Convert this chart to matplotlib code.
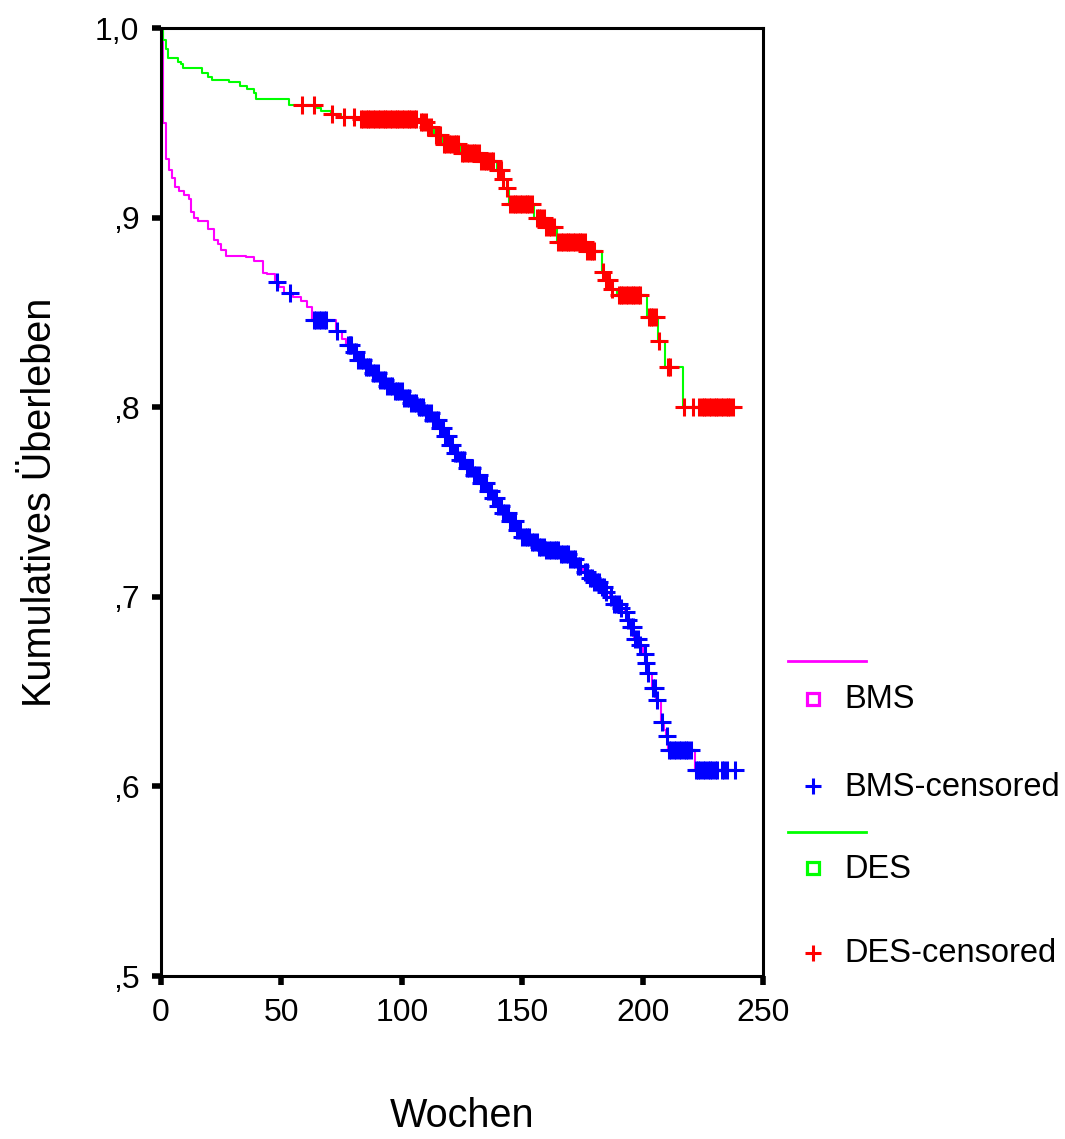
import numpy as np
import matplotlib
matplotlib.use('Agg')
import matplotlib.pyplot as plt
from matplotlib.lines import Line2D

plt.rcParams['font.family'] = ['Liberation Sans', 'DejaVu Sans']

# step points of the survival curves (week of step, level after the step)
bms_t = [0, 1.0, 2.0, 3.5, 4.5, 5.8, 7.5, 9.5, 11.5, 12.5,
         13.8, 15.5, 19.5, 22.0, 23.5, 24.8, 27.0, 35.5, 38.5, 42.5,
         44.0, 47.5, 48.8, 51.0, 54.8, 58.0, 60.5, 62.5, 72.5, 75.0,
         77.0, 79.5, 82.0, 85.0, 88.0, 91.0, 94.0, 97.0, 100.5, 104.0,
         107.0, 110.0, 113.0, 115.5, 117.5, 119.5, 121.5, 123.5, 127.0, 130.0,
         133.0, 135.5, 137.5, 139.5, 142.0, 145.0, 147.5, 150.0, 154.0, 157.0,
         160.0, 166.0, 170.0, 173.0, 175.3, 178.0, 180.0, 183.0, 185.0, 186.4,
         188.0, 191.0, 192.6, 193.8, 195.0, 196.5, 198.2, 200.3, 201.0, 202.0,
         203.8, 205.5, 207.8, 209.0, 209.8, 210.5, 221.7]
bms_s = [1.0, 0.950, 0.931, 0.925, 0.921, 0.916, 0.914, 0.912, 0.910, 0.903,
         0.900, 0.898, 0.894, 0.888, 0.886, 0.883, 0.880, 0.879, 0.877, 0.871,
         0.870, 0.866, 0.8636, 0.860, 0.858, 0.856, 0.853, 0.846, 0.840, 0.836,
         0.833, 0.829, 0.825, 0.821, 0.818, 0.8145, 0.811, 0.8085, 0.805, 0.802,
         0.800, 0.797, 0.793, 0.789, 0.785, 0.780, 0.776, 0.772, 0.768, 0.764,
         0.760, 0.756, 0.752, 0.748, 0.744, 0.740, 0.735, 0.7315, 0.729, 0.7265,
         0.7247, 0.7225, 0.720, 0.716, 0.713, 0.710, 0.708, 0.705, 0.7027, 0.700,
         0.696, 0.694, 0.692, 0.688, 0.684, 0.678, 0.6746, 0.670, 0.665, 0.660,
         0.652, 0.6455, 0.634, 0.630, 0.6266, 0.6192, 0.6087]

des_t = [0, 1.0, 2.1, 3.1, 7.2, 8.2, 9.3, 16.9, 19.7, 21.1,
         28.1, 32.9, 35.7, 38.5, 39.6, 53.1, 64.9, 66.3, 70.4, 74.6,
         81.5, 107, 110.5, 113.5, 117, 124.5, 132.5, 139.5, 141.5, 142.5,
         144.5, 155, 159.5, 164.5, 176.5, 183, 184.5, 187, 189.5, 201.9,
         206.5, 209.3, 216.7]
des_s = [1.0, 0.9937, 0.9888, 0.984, 0.9822, 0.9808, 0.9791, 0.9761, 0.974, 0.9726,
         0.9713, 0.9696, 0.9677, 0.9659, 0.9626, 0.9594, 0.9576, 0.9562, 0.9545, 0.9532,
         0.952, 0.9504, 0.9478, 0.9436, 0.9388, 0.934, 0.930, 0.925, 0.9205, 0.9156,
         0.907, 0.900, 0.895, 0.887, 0.8824, 0.8715, 0.867, 0.8625, 0.859, 0.8476,
         0.835, 0.8212, 0.800]

# censored weeks
bms_cens = [48.2, 53.5, 63.5, 64.5, 65.5, 66.5, 67.5, 68.5, 73.2, 77.5, 78.5,
            79, 80, 81, 82, 83, 84, 85, 86, 87, 88, 89, 90, 91, 92, 93, 94,
            95, 96, 97, 98, 99, 100, 101, 102, 103, 104, 105, 106, 107, 108,
            109, 110, 111, 112, 113, 114, 115, 116, 117, 118, 119, 120, 121,
            122, 123, 124, 125, 126, 127, 128, 129, 130, 131, 132, 133, 134,
            135, 136, 137, 138, 139, 140, 141, 142, 143, 144, 145, 146, 147,
            148, 149, 150, 151, 152, 153, 154, 155, 156, 157, 158, 159, 160,
            161, 162, 163, 164, 165, 166, 167, 168, 169, 170, 171, 172, 173,
            174, 176, 177, 178, 179, 180, 181, 182, 183, 184, 185, 187, 188,
            189, 190, 191, 193, 194, 195, 196, 197, 198, 199, 200.8, 201.5,
            202.4, 204.2, 205, 206.1, 208, 210, 211, 212, 213, 214, 215, 216,
            217, 218, 219, 220, 222, 223, 224, 225, 226, 227, 228, 229, 230,
            231, 233, 234, 235, 238.2]
des_cens = [58.6, 63.4, 71, 76, 80, 83, 84, 85, 86, 87, 88, 89, 90, 91, 92,
            93, 94, 95, 96, 97, 98, 99, 100, 101, 102, 103, 104, 105, 106,
            108, 109, 110, 111, 112, 114, 115, 116, 117.5, 118.5, 119.5, 120.5,
            121.5, 122.5, 123.5, 125, 126, 127, 128, 129, 130, 131, 132, 133,
            134, 135, 136, 137, 138, 140, 141, 142, 143.5, 145, 146, 147, 148,
            149, 150, 151, 152, 153, 154, 156, 157, 158, 159, 160, 161, 162,
            163, 165, 166, 167, 168, 169, 170, 171, 172, 173, 174, 175, 176,
            177, 178, 179, 180, 183.6, 185, 186, 187.4, 190, 191, 192, 193,
            194, 195, 196, 197, 198, 199, 202.5, 203.5, 204.5, 205.5, 206.8,
            210.5, 211.5, 217.4, 221, 223.5, 224.5, 225.5, 226.5, 227.5, 228.5,
            229.5, 230.5, 231.5, 232.5, 233.5, 234.5, 235.5, 236.5, 237.5]

x_ticks = [0, 50, 100, 150, 200, 250]
y_ticks = [0.5, 0.6, 0.7, 0.8, 0.9, 1.0]
y_labels = [',5', ',6', ',7', ',8', ',9', '1,0']


def level_at(st, ss, t):
    i = np.searchsorted(st, t, side='right') - 1
    return np.array(ss)[i]


W, H = 1065, 1139
fig = plt.figure(figsize=(W / 100, H / 100), dpi=100)
ax = fig.add_axes([161 / W, 1 - 976 / H, 602 / W, 948 / H])

# curves run on to the last censored week
ax.step(bms_t + [max(bms_cens)], bms_s + [bms_s[-1]], where='post',
        color='#ff00ff', lw=1.5, zorder=2)
ax.step(des_t + [max(des_cens)], des_s + [des_s[-1]], where='post',
        color='#00ff00', lw=1.5, zorder=3)
ax.plot(bms_cens, level_at(bms_t, bms_s, bms_cens), ls='none', marker='+',
        ms=13, mew=2.2, color='#0000ff', zorder=4)
ax.plot(des_cens, level_at(des_t, des_s, des_cens), ls='none', marker='+',
        ms=13, mew=2.2, color='#ff0000', zorder=5)

ax.set_xlim(0, 250)
ax.set_ylim(0.5, 1.0)
ax.set_xticks(x_ticks)
ax.set_xticklabels([str(v) for v in x_ticks])
ax.set_yticks(y_ticks)
ax.set_yticklabels(y_labels)
ax.tick_params(direction='out', length=6.5, width=4, labelsize=23, pad=9)
for sp in ax.spines.values():
    sp.set_linewidth(2.2)
    sp.set_zorder(6)

ax.set_xlabel('Wochen', fontsize=28.5, labelpad=50)
ax.set_ylabel('Kumulatives Überleben', fontsize=28.5, labelpad=26)


# legend, drawn by hand in figure pixels
def fx(px):
    return px / W


def fy(py):
    return 1 - py / H


tf = fig.transFigure
legend_rows = [
    ('line', '#ff00ff', 661, None),
    ('square', '#ff00ff', 699, 'BMS'),
    ('plus', '#0000ff', 786, 'BMS-censored'),
    ('line', '#00ff00', 832, None),
    ('square', '#00ff00', 868, 'DES'),
    ('plus', '#ff0000', 953, 'DES-censored'),
]
for kind, col, py, text in legend_rows:
    if kind == 'line':
        fig.add_artist(Line2D([fx(788), fx(866)], [fy(py), fy(py)],
                              transform=tf, color=col, lw=2))
    elif kind == 'square':
        fig.add_artist(Line2D([fx(813)], [fy(py)], transform=tf, ls='none',
                              marker='s', ms=8.5, mew=2.3, mec=col, mfc='white'))
    else:
        fig.add_artist(Line2D([fx(813)], [fy(py)], transform=tf, ls='none',
                              marker='+', ms=12, mew=2.2, color=col))
    if text:
        fig.text(fx(844), fy(py + 1), text, fontsize=23.5, va='center', ha='left')

fig.savefig('out.png', dpi=100)
